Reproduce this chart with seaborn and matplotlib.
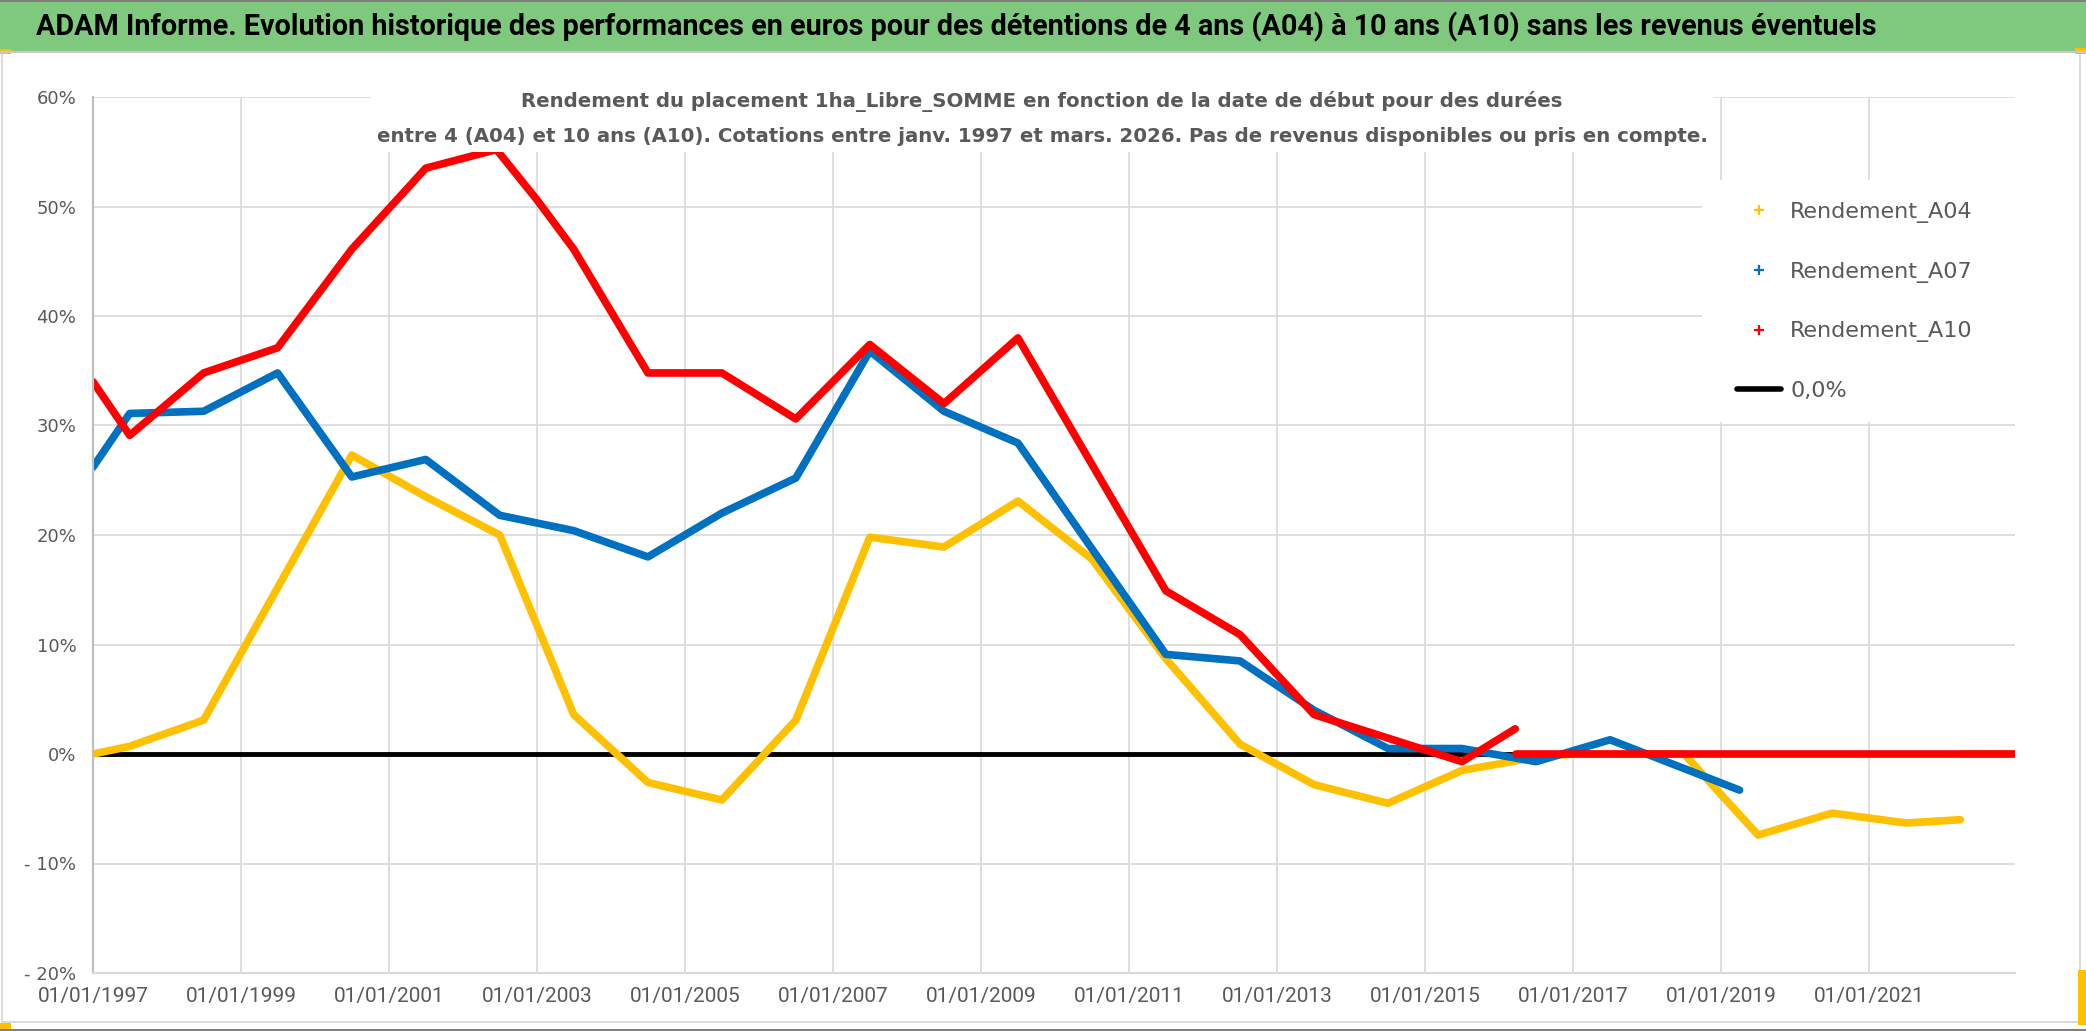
import matplotlib
matplotlib.use("Agg")
import matplotlib.pyplot as plt
from matplotlib.lines import Line2D
from matplotlib.patches import Rectangle
import pandas as pd
import seaborn as sns

# ---- data (rendement in %) ----
dates_a04 = ["1997-01-01", "1997-07-01", "1998-07-01", "2000-07-01", "2001-07-01",
             "2002-07-01", "2003-07-01", "2004-07-01", "2005-07-01", "2006-07-01",
             "2007-07-01", "2008-07-01", "2009-07-01", "2010-07-01", "2011-07-01",
             "2012-07-01", "2013-07-01", "2014-07-01", "2015-07-01", "2016-07-01",
             "2017-01-01", "2018-07-01", "2019-07-01", "2020-07-01", "2021-07-01",
             "2022-03-25"]
vals_a04 = [0.0, 0.7, 3.1, 27.3, 23.5,
            20.0, 3.6, -2.6, -4.2, 3.1,
            19.8, 18.9, 23.1, 17.8, 8.7,
            0.9, -2.8, -4.5, -1.5, -0.3,
            0.0, 0.0, -7.4, -5.4, -6.3,
            -6.0]
dates_a04_tail = ["2022-04-01", "2022-12-20"]
vals_a04_tail = [0.0, 0.0]

dates_a07 = ["1997-01-01", "1997-07-01", "1998-07-01", "1999-07-01", "2000-07-01",
             "2001-07-01", "2002-07-01", "2003-07-01", "2004-07-01", "2005-07-01",
             "2006-07-01", "2007-07-01", "2008-07-01", "2009-07-01", "2011-07-01",
             "2012-07-01", "2013-07-01", "2014-07-01", "2015-07-01", "2016-07-01",
             "2017-07-01", "2019-04-01"]
vals_a07 = [26.2, 31.1, 31.3, 34.8, 25.3,
            26.9, 21.8, 20.4, 18.0, 22.0,
            25.2, 36.8, 31.3, 28.4, 9.1,
            8.5, 4.0, 0.5, 0.5, -0.7,
            1.3, -3.3]

dates_a10 = ["1997-01-01", "1997-07-01", "1998-07-01", "1999-07-01", "2000-07-01",
             "2001-07-01", "2002-06-15", "2003-01-01", "2003-07-01", "2004-07-01",
             "2005-07-01", "2006-07-01", "2007-07-01", "2008-07-01", "2009-07-01",
             "2011-07-01", "2012-07-01", "2013-07-01", "2015-07-01", "2016-03-20"]
vals_a10 = [34.0, 29.1, 34.8, 37.1, 46.1,
            53.5, 55.2, 50.6, 46.1, 34.8,
            34.8, 30.6, 37.4, 32.0, 38.0,
            14.9, 10.9, 3.6, -0.7, 2.3]
dates_a10_tail = ["2016-03-25", "2022-12-20"]
vals_a10_tail = [0.0, 0.0]

zero_dates = ["1997-01-01", "2022-12-20"]
zero_vals = [0.0, 0.0]

labels = ["Rendement_A04", "Rendement_A07", "Rendement_A10", "0,0%"]
colors = {"Rendement_A04": "#FFC000", "Rendement_A07": "#0070C0", "Rendement_A10": "#FF0000"}
year_ticks = list(range(1997, 2022, 2))
y_ticks = list(range(-20, 61, 10))

title = ("ADAM Informe. Evolution historique des performances en euros pour des "
         "détentions de 4 ans (A04) à 10 ans (A10) sans les revenus éventuels")
subtitle = ("Rendement du placement 1ha_Libre_SOMME en fonction de la date de début pour des durées\n"
            "entre 4 (A04) et 10 ans (A10). Cotations entre janv. 1997 et mars. 2026. "
            "Pas de revenus disponibles ou pris en compte.")

# long table
parts = []
for name, seg, d, v in [("Rendement_A04", 0, dates_a04_tail, vals_a04_tail),
                        ("Rendement_A04", 1, dates_a04, vals_a04),
                        ("Rendement_A07", 2, dates_a07, vals_a07),
                        ("Rendement_A10", 3, dates_a10, vals_a10),
                        ("Rendement_A10", 4, dates_a10_tail, vals_a10_tail)]:
    parts.append(pd.DataFrame({"date": pd.to_datetime(d), "val": v, "serie": name, "seg": seg}))
df = pd.concat(parts, ignore_index=True)

W, H = 2086, 1031
sns.set_style("white")
narrow = ["Roboto", "DejaVu Sans"]
plt.rcParams["font.family"] = ["DejaVu Sans"]

fig = plt.figure(figsize=(W / 100, H / 100), dpi=100)

# frame / title band
fig.patches.append(Rectangle((2 / W, 1 - 1022 / H), 2078 / W, 970 / H, transform=fig.transFigure,
                             fill=False, ec="#d4d4d4", lw=1.2))
fig.patches.append(Rectangle((0, 1 - 51 / H), 1, 51 / H, transform=fig.transFigure,
                             fc="#7fc97f", ec="none"))
fig.lines.append(Line2D([0, 1], [1 - 52 / H] * 2, transform=fig.transFigure, color="#c8c8c8", lw=1.5))
fig.lines.append(Line2D([0, 1], [1 - 1 / H] * 2, transform=fig.transFigure, color="#808080", lw=1.5))
fig.lines.append(Line2D([0, 1], [1 - 1030 / H] * 2, transform=fig.transFigure, color="#808080", lw=1.5))
for (x0, y0, w, h) in [(0, 49, 11, 5), (0, 1023, 11, 8), (2075, 48, 11, 6), (2078, 970, 8, 55)]:
    fig.patches.append(Rectangle((x0 / W, 1 - (y0 + h) / H), w / W, h / H, transform=fig.transFigure,
                                 fc="#FFC000", ec="none"))
fig.text(36 / W, 1 - 27 / H, title, ha="left", va="center", fontsize=20.7, fontweight="bold",
         color="black", family=narrow)

ax = fig.add_axes([93 / W, 58 / H, (2015 - 93) / W, (973 - 97) / H])

ax.plot(pd.to_datetime(zero_dates), zero_vals, color="black", lw=3.5, zorder=1, solid_capstyle="butt")
sns.lineplot(data=df, x="date", y="val", hue="serie", units="seg", estimator=None,
             palette=colors, lw=5.5, legend=False, ax=ax, zorder=2, sort=False)

ax.set_xlim(pd.Timestamp("1997-01-01"), pd.Timestamp("2022-12-20"))
ax.set_ylim(-20, 60)
ax.set_xticks([pd.Timestamp(f"{y}-01-01") for y in year_ticks])
ax.set_xticklabels([f"01/01/{y}" for y in year_ticks], family=narrow, fontsize=15, color="#595959")
ax.set_yticks(y_ticks)
ax.set_yticklabels([f"{t}%" if t >= 0 else f"- {-t}%" for t in y_ticks], fontsize=13, color="#595959")
ax.tick_params(axis="both", length=0)
ax.tick_params(axis="y", pad=12)
ax.tick_params(axis="x", pad=10)
ax.grid(True, color="#d9d9d9", lw=1.2)
ax.set_axisbelow(True)
ax.set_xlabel("")
ax.set_ylabel("")
for s in ["top", "right"]:
    ax.spines[s].set_visible(False)
ax.spines["left"].set_color("#bfbfbf")
ax.spines["left"].set_linewidth(1.6)
ax.spines["bottom"].set_color("#d9d9d9")
ax.spines["bottom"].set_linewidth(1.6)

# subtitle box
fig.text(1042 / W, 1 - 119 / H, subtitle, ha="center", va="center", multialignment="center",
         fontsize=14.2, fontweight="bold", color="#595959", linespacing=2.0,
         bbox=dict(fc="white", ec="none", pad=4), zorder=5)

# legend with white box
ax.add_patch(Rectangle(((1702 - 93) / 1922, (973 - 422) / 876), 313 / 1922, 242 / 876,
                       transform=ax.transAxes, fc="white", ec="none", zorder=4))
handles = [Line2D([], [], ls="none", marker="+", ms=7, mew=1.6, color=colors[labels[0]]),
           Line2D([], [], ls="none", marker="+", ms=7, mew=1.6, color=colors[labels[1]]),
           Line2D([], [], ls="none", marker="+", ms=7, mew=1.6, color=colors[labels[2]]),
           Line2D([], [], color="black", lw=4)]
leg = ax.legend(handles, labels, loc="upper left", bbox_to_anchor=(1737 / W, 1 - 202 / H),
                bbox_transform=fig.transFigure, frameon=False, fontsize=16, borderpad=0,
                borderaxespad=0, labelspacing=1.74, handlelength=2, handletextpad=0.4)
leg.set_zorder(6)
for t in leg.get_texts():
    t.set_color("#595959")

fig.savefig("out.png", dpi=100, facecolor="white")
